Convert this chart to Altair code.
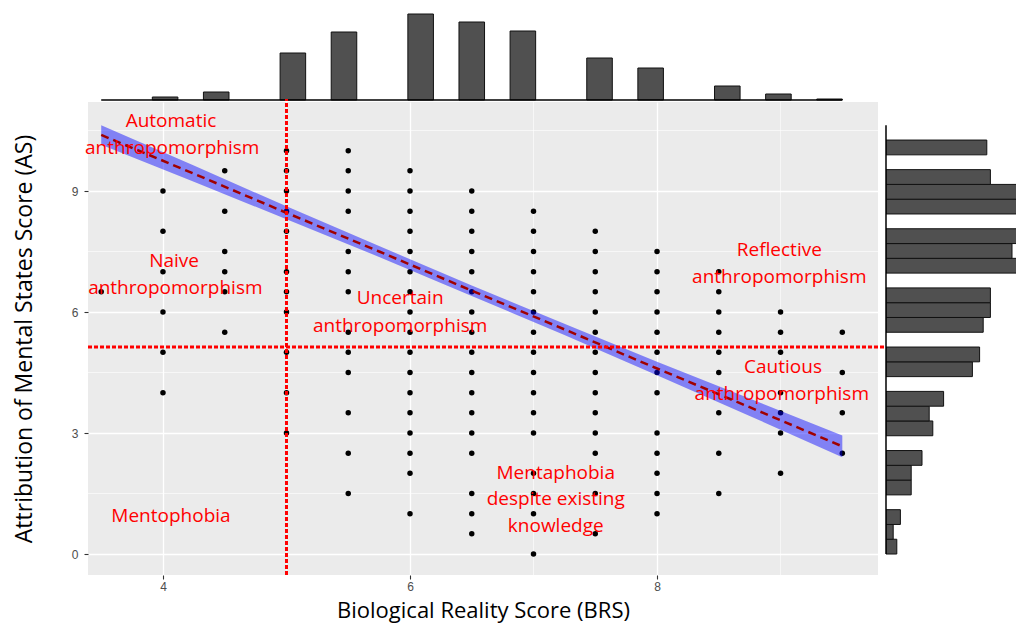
import altair as alt
import pandas as pd

# ---------------- data ----------------
# scatter: each BRS column and the AS values visible in that column
brs_values = [3.5, 4.0, 4.5, 5.0, 5.5, 6.0, 6.5, 7.0, 7.5, 8.0, 8.5, 9.0, 9.5]
as_by_brs = [
    [6.5],
    [9, 8, 7, 6, 5, 4],
    [9.5, 8.5, 7.5, 7, 6.5, 5.5],
    [10, 9.5, 9, 8.5, 8, 7, 6.5, 6, 5, 4, 3],
    [10, 9.5, 9, 8.5, 7.5, 7, 6.5, 5.5, 5, 4.5, 3.5, 2.5, 1.5],
    [9.5, 9, 8.5, 8, 7.5, 7, 6.5, 6, 5.5, 5, 4.5, 4, 3.5, 3, 2.5, 2, 1],
    [9, 8.5, 8, 7.5, 7, 6.5, 6, 5.5, 5, 4.5, 4, 3.5, 3, 2.5, 1.5, 1, 0.5],
    [8.5, 8, 7.5, 7, 6.5, 6, 5.5, 5, 4.5, 4, 3.5, 3, 2, 1.5, 1, 0],
    [8, 7.5, 7, 6.5, 6, 5.5, 5, 4.5, 4, 3.5, 3, 2.5, 1.5, 0.5],
    [7.5, 7, 6.5, 6, 5.5, 5, 4.5, 4, 3, 2.5, 2, 1.5, 1],
    [7, 6.5, 6, 5.5, 5, 4.5, 3.5, 2.5, 1.5],
    [6, 5.5, 5, 4, 3.5, 3, 2],
    [5.5, 4.5, 3.5, 2.5],
]

# linear fit with confidence band
fit_x = [3.5, 4.25, 5.0, 5.75, 6.5, 7.25, 8.0, 8.75, 9.5]
fit_y = [10.39, 9.43, 8.46, 7.50, 6.53, 5.57, 4.60, 3.64, 2.67]
fit_lo = [10.15, 9.23, 8.30, 7.365, 6.40, 5.43, 4.43, 3.425, 2.40]
fit_hi = [10.63, 9.63, 8.62, 7.635, 6.66, 5.71, 4.77, 3.855, 2.94]

# cut-off lines
brs_cut = 5.0
as_cut = 5.13

# top marginal histogram (29 bins over its range, occupied bins and counts)
top_range = [3.5, 9.5]
top_nbins = 29
top_bins = [2, 4, 7, 9, 12, 14, 16, 19, 21, 24, 26, 28]
top_counts = [3, 8, 47, 68, 86, 78, 69, 42, 32, 14, 6, 1]

# right marginal histogram (bins bottom-up)
right_range = [0.0, 10.63]
right_nbins = 29
right_bins = [0, 1, 2, 4, 5, 6, 8, 9, 10, 12, 13, 15, 16, 17, 19, 20, 21, 23, 24, 25, 27]
right_counts = [3, 2, 4, 7, 7, 10, 13, 12, 16, 24, 26, 27, 29, 29, 38, 35, 39, 37, 39, 29, 28]

# annotations (one row per text line)
ann_text = ["Automatic", "anthropomorphism", "Naive", "anthropomorphism",
            "Uncertain", "anthropomorphism", "Reflective", "anthropomorphism",
            "Cautious", "anthropomorphism", "Mentaphobia", "despite existing",
            "knowledge", "Mentophobia"]
ann_x = [4.065, 4.075, 4.09, 4.10, 5.92, 5.92, 8.99, 8.99, 9.02, 9.01,
         7.18, 7.18, 7.18, 4.065]
ann_y = [10.74, 10.07, 7.26, 6.59, 6.35, 5.65, 7.54, 6.87, 4.64, 3.97,
         2.00, 1.36, 0.69, 0.94]

x_ticks = [4, 6, 8]
y_ticks = [0, 3, 6, 9]
x_minor = [5, 7, 9]
y_minor = [1.5, 4.5, 7.5, 10.5]

X_TITLE = "Biological Reality Score (BRS)"
Y_TITLE = "Attribution of Mental States Score (AS)"

# ---------------- scales / axes ----------------
X_DOM = [3.393, 9.789]
Y_DOM = [-0.52, 11.207]
W, H = 790, 473
TOP_H, RIGHT_W = 92, 130

XS = alt.Scale(domain=X_DOM, nice=False, zero=False)
YS = alt.Scale(domain=Y_DOM, nice=False, zero=False)

common_axis = dict(
    grid=True, gridColor="white", gridWidth=1.3, domain=False,
    ticks=True, tickColor="#333333", tickSize=4, tickWidth=1.1,
    labelColor="#4D4D4D", labelFont="Liberation Sans", labelFontSize=12,
    titleFont="Open Sans", titleFontWeight="normal", titleColor="black",
)
xaxis = alt.Axis(values=x_ticks, format="d", labelPadding=2, titlePadding=8,
                 titleFontSize=22, **common_axis)
yaxis = alt.Axis(values=y_ticks, format="d", labelPadding=6, titlePadding=35,
                 titleFontSize=23, **common_axis)


def X(f):
    return alt.X(f, type="quantitative", scale=XS, axis=xaxis, title=X_TITLE)


def Y(f):
    return alt.Y(f, type="quantitative", scale=YS, axis=yaxis, title=Y_TITLE)


# ---------------- main panel ----------------
pts = pd.DataFrame(
    [(x, y) for x, ys in zip(brs_values, as_by_brs) for y in ys],
    columns=["brs", "as_"],
)
fit = pd.DataFrame({"x": fit_x, "y": fit_y, "lo": fit_lo, "hi": fit_hi})
ann = pd.DataFrame({"t": ann_text, "x": ann_x, "y": ann_y})

minor_x = alt.Chart(pd.DataFrame({"v": x_minor})).mark_rule(
    color="white", strokeWidth=0.6).encode(x=X("v"))
minor_y = alt.Chart(pd.DataFrame({"v": y_minor})).mark_rule(
    color="white", strokeWidth=0.6).encode(y=Y("v"))

points = alt.Chart(pts).mark_circle(size=30, color="black", opacity=1).encode(
    x=X("brs"), y=Y("as_"))

band = alt.Chart(fit).mark_area(color="#0000FF", opacity=0.45).encode(
    x=X("x"), y=Y("lo"), y2=alt.Y2("hi"))
line = alt.Chart(fit).mark_line(color="#A00000", strokeWidth=2.5,
                                strokeDash=[8, 5]).encode(x=X("x"), y=Y("y"))

vcut = alt.Chart(pd.DataFrame({"x": [brs_cut], "y0": [Y_DOM[0]],
                               "y1": [Y_DOM[1] + 0.075]})).mark_rule(
    color="#FF0000", strokeWidth=3, strokeDash=[4, 2]).encode(
    x=X("x"), y=Y("y0"), y2=alt.Y2("y1"))
hcut = alt.Chart(pd.DataFrame({"y": [as_cut], "x0": [X_DOM[0]],
                               "x1": [X_DOM[1] + 0.065]})).mark_rule(
    color="#FF0000", strokeWidth=3, strokeDash=[4, 2]).encode(
    y=Y("y"), x=X("x0"), x2=alt.X2("x1"))

texts = alt.Chart(ann).mark_text(color="#FF0000", font="Open Sans", fontSize=19,
                                 align="center", baseline="middle").encode(
    x=X("x"), y=Y("y"), text="t:N")

main = alt.layer(minor_x, minor_y, points, band, line, vcut, hcut, texts).properties(
    width=W, height=H, view=alt.ViewBackground(fill="#EBEBEB", strokeWidth=0))

# ---------------- top histogram ----------------
tw = (top_range[1] - top_range[0]) / top_nbins
top_df = pd.DataFrame({
    "x0": [top_range[0] + b * tw for b in top_bins],
    "x1": [top_range[0] + (b + 1) * tw for b in top_bins],
    "n": top_counts,
})
TS = alt.Scale(domain=[0, TOP_H], nice=False)
top_bars = alt.Chart(top_df).mark_rect(fill="#505050", stroke="#111111",
                                       strokeWidth=1).encode(
    x=alt.X("x0:Q", scale=XS, axis=None),
    x2="x1",
    y=alt.Y("n:Q", scale=TS, axis=None),
    y2=alt.datum(0),
)
top_base = alt.Chart(pd.DataFrame({"a": [top_range[0]], "b": [top_range[1]],
                                   "z": [0]})).mark_rule(
    color="black", strokeWidth=1.5).encode(
    x=alt.X("a:Q", scale=XS, axis=None), x2="b",
    y=alt.Y("z:Q", scale=TS, axis=None))
top = alt.layer(top_bars, top_base).properties(width=W, height=TOP_H)

# ---------------- right histogram ----------------
rw = (right_range[1] - right_range[0]) / right_nbins
right_df = pd.DataFrame({
    "y0": [right_range[0] + b * rw for b in right_bins],
    "y1": [right_range[0] + (b + 1) * rw for b in right_bins],
    "n": right_counts,
})
CS = alt.Scale(domain=[0, RIGHT_W / 3.6], nice=False)
right_bars = alt.Chart(right_df).mark_rect(fill="#505050", stroke="#111111",
                                           strokeWidth=1, clip=True).encode(
    y=alt.Y("y0:Q", scale=YS, axis=None),
    y2="y1",
    x=alt.X("n:Q", scale=CS, axis=None),
    x2=alt.datum(0),
)
right_base = alt.Chart(pd.DataFrame({"a": [right_range[0]], "b": [right_range[1]],
                                     "z": [0]})).mark_rule(
    color="black", strokeWidth=1.5).encode(
    y=alt.Y("a:Q", scale=YS, axis=None), y2="b",
    x=alt.X("z:Q", scale=CS, axis=None))
right = alt.layer(right_bars, right_base).properties(width=RIGHT_W, height=H)

chart = alt.vconcat(
    top,
    alt.hconcat(main, right, spacing=8, bounds="flush"),
    spacing=2, bounds="flush",
).properties(
    padding={"left": 5, "top": 0, "right": 0, "bottom": 3}
).configure_view(strokeWidth=0)

chart.save("out.html", embed_options={"renderer": "svg", "actions": False})
